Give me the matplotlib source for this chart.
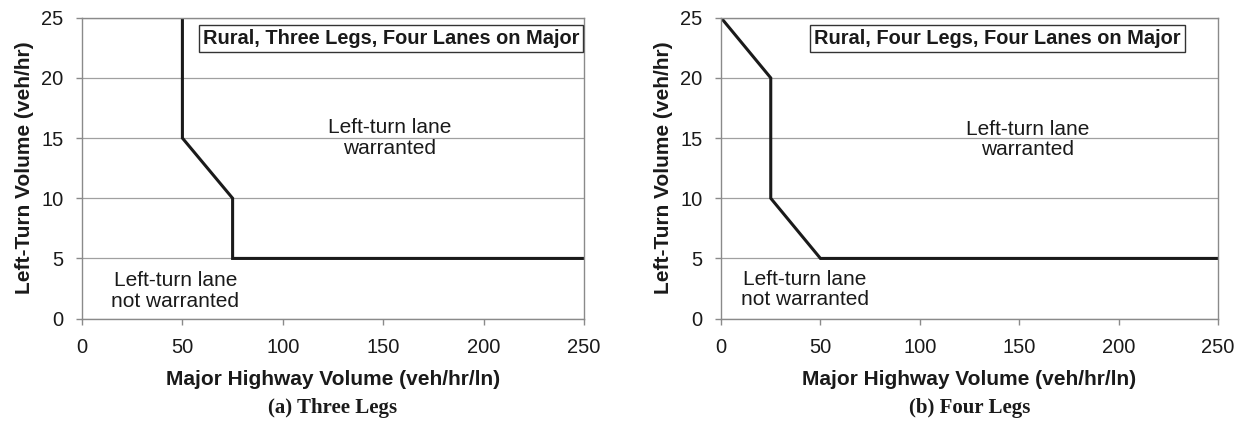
import matplotlib.pyplot as plt

plt.rcParams['font.family'] = ['Liberation Sans', 'DejaVu Sans']

# boundary lines
three_x = [50, 50, 75, 75, 250]
three_y = [25, 15, 10, 5, 5]
four_x = [0, 25, 25, 50, 250]
four_y = [25, 20, 10, 5, 5]

x_ticks = [0, 50, 100, 150, 200, 250]
y_ticks = [0, 5, 10, 15, 20, 25]

panels = [
    (three_x, three_y, 'Rural, Three Legs, Four Lanes on Major', '(a) Three Legs',
     [0.0663, 0.245, 0.4058, 0.713], 0.99, (153, 15.0), (46.5, 2.3)),
    (four_x, four_y, 'Rural, Four Legs, Four Lanes on Major', '(b) Four Legs',
     [0.5829, 0.245, 0.4018, 0.713], 0.925, (154, 14.9), (42, 2.4)),
]

fig = plt.figure(figsize=(12.37, 4.22), dpi=100)

for xs, ys, title, caption, rect, box_x, warr, notwarr in panels:
    ax = fig.add_axes(rect)
    ax.plot(xs, ys, color='#1a1a1a', lw=2.2, solid_joinstyle='miter')
    ax.set_xlim(0, 250)
    ax.set_ylim(0, 25)
    ax.set_xticks(x_ticks)
    ax.set_yticks(y_ticks)
    ax.yaxis.grid(True, color='#a0a0a0', lw=0.9)
    ax.set_axisbelow(True)
    for s in ax.spines.values():
        s.set_color('#8a8a8a')
        s.set_linewidth(1.0)
    ax.tick_params(axis='both', labelsize=14.5, colors='#8a8a8a', labelcolor='#1a1a1a',
                   length=4, width=1.0, direction='out')
    ax.tick_params(axis='x', pad=10)
    ax.tick_params(axis='y', pad=9.5)
    ax.set_xlabel('Major Highway Volume (veh/hr/ln)', fontsize=15, fontweight='bold',
                  labelpad=9, color='#1a1a1a')
    ax.set_ylabel('Left-Turn Volume (veh/hr)', fontsize=15, fontweight='bold',
                  labelpad=5, color='#1a1a1a')
    ax.text(box_x, 0.962, title, transform=ax.transAxes, ha='right', va='top',
            fontsize=14.4, fontweight='bold', color='#1a1a1a',
            bbox=dict(boxstyle='square,pad=0.2', fc='white', ec='#333333', lw=1.0))
    ax.text(warr[0], warr[1], 'Left-turn lane\nwarranted', ha='center', va='center',
            fontsize=15, color='#1a1a1a', linespacing=1.1)
    ax.text(notwarr[0], notwarr[1], 'Left-turn lane\nnot warranted', ha='center', va='center',
            fontsize=15, color='#1a1a1a', linespacing=1.1)
    cx = rect[0] + rect[2] / 2
    fig.text(cx, 0.033, caption, ha='center', va='center',
             fontsize=15, fontweight='bold', family='Liberation Serif', color='#1a1a1a')

fig.savefig('out.png', dpi=100)
